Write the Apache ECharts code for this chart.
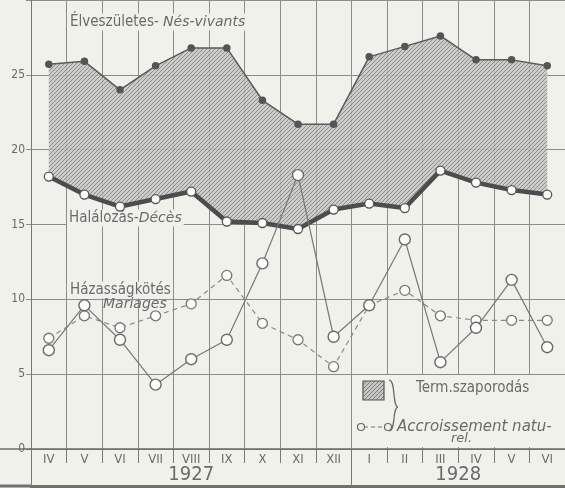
<!DOCTYPE html>
<html>
<head>
<meta charset="utf-8">
<script src="https://cdn.jsdelivr.net/npm/echarts@6/dist/echarts.min.js"></script>
<style>
html,body{margin:0;padding:0;background:#f1f1ec;}
#c{width:565px;height:488px;}
</style>
</head>
<body>
<div id="c"></div>
<script>
// ---- data ----
const months = ['IV','V','VI','VII','VIII','IX','X','XI','XII','I','II','III','IV','V','VI'];
const years = ['1927', '1928'];
const yearSpans = [9, 6];
const yTicks = [0, 5, 10, 15, 20, 25];
const births    = [25.7, 25.9, 24.0, 25.6, 26.8, 26.8, 23.3, 21.7, 21.7, 26.2, 26.9, 27.6, 26.0, 26.0, 25.6];
const deaths    = [18.2, 17.0, 16.2, 16.7, 17.2, 15.2, 15.1, 14.7, 16.0, 16.4, 16.1, 18.6, 17.8, 17.3, 17.0];
const marriages = [6.6, 9.6, 7.3, 4.3, 6.0, 7.3, 12.4, 18.3, 7.5, 9.6, 14.0, 5.8, 8.1, 11.3, 6.8];
const natural   = [7.4, 8.9, 8.1, 8.9, 9.7, 11.6, 8.4, 7.3, 5.5, 9.6, 10.6, 8.9, 8.6, 8.6, 8.6];

// ---- derived ----
const gap = births.map((b, i) => +(b - deaths[i]).toFixed(2));
const yearStarts = [];
const yearMids = [];
let acc = 0;
yearSpans.forEach(s => { yearStarts.push(acc); yearMids.push(acc + s / 2); acc += s; });
yearStarts.push(acc);

const BG = '#f1f1ec';
const INK = '#6a6a6a';
const GRIDC = '#8c8c8c';
const FONT = '"DejaVu Sans Condensed", "Liberation Sans Narrow", "DejaVu Sans", sans-serif';
const IFONT = '"DejaVu Sans", sans-serif';

function hatch() {
  const c = document.createElement('canvas');
  c.width = 4; c.height = 4;
  const g = c.getContext('2d');
  g.fillStyle = '#c6c6c2';
  g.fillRect(0, 0, 4, 4);
  g.strokeStyle = '#7e7e7e';
  g.lineWidth = 1;
  g.beginPath();
  g.moveTo(0, 4); g.lineTo(4, 0);
  g.moveTo(-1, 1); g.lineTo(1, -1);
  g.moveTo(3, 5); g.lineTo(5, 3);
  g.stroke();
  return c;
}
const pat = hatch();

const chart = echarts.init(document.getElementById('c'), null, {renderer: 'canvas'});
const txt = (x, y, text, rich, extra) => Object.assign({
  type: 'text', x, y, z: 1,
  style: Object.assign({text, rich, font: '15px ' + FONT, fill: INK, backgroundColor: BG,
    padding: [1, 2, 1, 2], verticalAlign: 'middle'}, extra || {})
});
const richBase = {
  n: {fontFamily: FONT, fontSize: 15, color: INK},
  i: {fontFamily: IFONT, fontStyle: 'italic', fontSize: 14, color: INK}
};

chart.setOption({
  backgroundColor: BG,
  animation: false,
  grid: {left: 31, width: 540, top: -3, height: 452},
  xAxis: [{
    type: 'category', data: months, boundaryGap: true, position: 'bottom',
    axisLine: {lineStyle: {color: '#6a6a6a', width: 1.5}},
    axisTick: {show: true, interval: 0, length: 14, lineStyle: {color: '#777', width: 1}},
    axisLabel: {interval: 0, margin: 4, color: INK, fontFamily: FONT, fontSize: 13},
    splitLine: {show: true, interval: 0, lineStyle: {color: GRIDC, width: 1}}
  }, {
    type: 'value', min: 0, max: acc, position: 'bottom', offset: 37,
    axisLine: {show: true, lineStyle: {color: '#707070', width: 3}},
    axisTick: {show: true, inside: true, length: 37, customValues: yearStarts, lineStyle: {color: '#777', width: 1}},
    axisLabel: {show: true, inside: true, margin: 1, customValues: yearMids,
      formatter: v => years[yearMids.indexOf(v)] || '', color: INK, fontFamily: FONT, fontSize: 20},
    splitLine: {show: false}
  }],
  yAxis: {
    type: 'value', min: 0, max: 30, interval: 5,
    axisLine: {show: true, lineStyle: {color: '#777', width: 1}},
    axisTick: {show: true, length: 5, lineStyle: {color: GRIDC}},
    axisLabel: {margin: 6, color: INK, fontFamily: FONT, fontSize: 12, padding: [0, 0, 7, 0],
      formatter: v => yTicks.indexOf(v) >= 0 ? String(v) : ''},
    splitLine: {show: true, lineStyle: {color: GRIDC, width: 1}}
  },
  series: [
    {type: 'line', name: 'base', data: deaths, stack: 'd', symbol: 'none',
      lineStyle: {opacity: 0}, silent: true, z: 2},
    {type: 'line', name: 'gap', data: gap, stack: 'd', symbol: 'none',
      lineStyle: {opacity: 0}, areaStyle: {color: {image: pat, repeat: 'repeat'}, opacity: 0.85}, silent: true, z: 2},
    {type: 'line', name: 'Élveszületés', data: births, symbol: 'circle', symbolSize: 7.5,
      lineStyle: {color: '#5a5a5a', width: 1.5}, itemStyle: {color: '#555'}, z: 4},
    {type: 'line', name: 'Halálozás', data: deaths, symbol: 'circle', symbolSize: 9,
      lineStyle: {color: '#4d4d4d', width: 4.5}, itemStyle: {color: '#fbfbf8', borderColor: '#555', borderWidth: 1.3}, z: 4},
    {type: 'line', name: 'Accroissement naturel', data: natural, symbol: 'circle', symbolSize: 10,
      lineStyle: {color: '#8a8a8a', width: 1.2, type: [5, 4]}, itemStyle: {color: '#fbfbf8', borderColor: '#777', borderWidth: 1.3}, z: 5},
    {type: 'line', name: 'Házasságkötés', data: marriages, symbol: 'circle', symbolSize: 11,
      lineStyle: {color: '#777', width: 1.2}, itemStyle: {color: '#fbfbf8', borderColor: '#6a6a6a', borderWidth: 1.4}, z: 6}
  ],
  graphic: [
    // extend base lines to the left edge
    {type: 'line', z: 1, shape: {x1: 0, y1: 449, x2: 31, y2: 449}, style: {stroke: '#6a6a6a', lineWidth: 1.5}},
    {type: 'line', z: 1, shape: {x1: 0, y1: 486, x2: 31, y2: 486}, style: {stroke: '#707070', lineWidth: 3}},
    txt(68, 22, '{n|Élveszületes- }{i|Nés-vivants}', richBase),
    txt(67, 218, '{n|Halálozás-}{i|Décès}', richBase),
    txt(68, 290, '{n|Házasságkötés}', richBase),
    txt(101, 304, '{i|Mariages}', richBase, {backgroundColor: 'transparent'}),
    // legend box
    {type: 'rect', z: 1, shape: {x: 356, y: 375, width: 212, height: 72}, style: {fill: BG}},
    {type: 'rect', z: 3, shape: {x: 363, y: 381, width: 21, height: 19},
      style: {fill: {image: pat, repeat: 'repeat'}, stroke: '#555', lineWidth: 1.2}},
    {type: 'bezierCurve', z: 3, shape: {x1: 389, y1: 380, cpx1: 396, cpy1: 380, cpx2: 392, cpy2: 406, x2: 398, y2: 407},
      style: {fill: 'none', stroke: '#666', lineWidth: 1.2}},
    {type: 'bezierCurve', z: 3, shape: {x1: 398, y1: 407, cpx1: 392, cpy1: 408, cpx2: 396, cpy2: 431, x2: 389, y2: 431},
      style: {fill: 'none', stroke: '#666', lineWidth: 1.2}},
    {type: 'text', z: 3, x: 416, y: 388, style: {text: 'Term.szaporodás', font: '15px ' + FONT, fill: INK, verticalAlign: 'middle'}},
    {type: 'line', z: 3, shape: {x1: 364, y1: 427, x2: 385, y2: 427}, style: {stroke: '#777', lineWidth: 1.2, lineDash: [4, 3]}},
    {type: 'circle', z: 3, shape: {cx: 361, cy: 427, r: 3.5}, style: {fill: BG, stroke: '#666', lineWidth: 1.2}},
    {type: 'circle', z: 3, shape: {cx: 388, cy: 427, r: 3.5}, style: {fill: BG, stroke: '#666', lineWidth: 1.2}},
    {type: 'text', z: 3, x: 397, y: 427, style: {text: 'Accroissement natu-', font: 'italic 15px ' + IFONT, fill: INK, verticalAlign: 'middle'}},
    {type: 'text', z: 3, x: 451, y: 439, style: {text: 'rel.', font: 'italic 13px ' + IFONT, fill: INK, verticalAlign: 'middle'}}
  ]
});
</script>
</body>
</html>
